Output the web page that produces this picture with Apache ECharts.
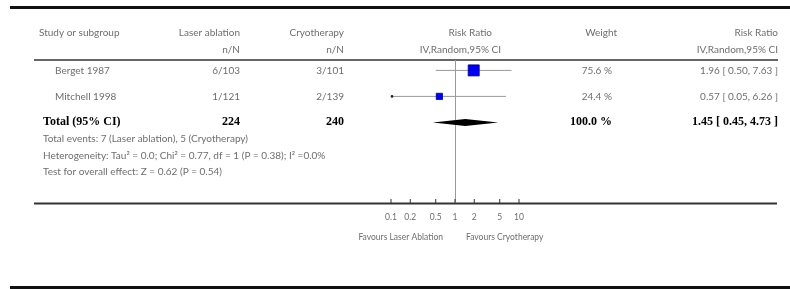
<!DOCTYPE html>
<html>
<head>
<meta charset="utf-8">
<script src="https://cdn.jsdelivr.net/npm/echarts@6/dist/echarts.min.js"></script>
<style>
  html, body { margin: 0; padding: 0; background: #fff; }
  #main { width: 790px; height: 289px; }
</style>
</head>
<body>
<div id="main"></div>
<script>
// study rows
var studies = ['Berget 1987', 'Mitchell 1998'];
var laserN = ['6/103', '1/121'];
var cryoN = ['3/101', '2/139'];
var rr = [1.96, 0.57];
var rrLo = [0.50, 0.05];
var rrHi = [7.63, 6.26];
var weights = [75.6, 24.4];
var ciText = ['1.96 [ 0.50, 7.63 ]', '0.57 [ 0.05, 6.26 ]'];

// pooled
var totalLabel = 'Total (95% CI)';
var totalN = ['224', '240'];
var totalRR = [1.45, 0.45, 4.73];
var totalWeight = '100.0 %';
var totalCI = '1.45 [ 0.45, 4.73 ]';

var notes = [
  'Total events: 7 (Laser ablation), 5 (Cryotherapy)',
  'Heterogeneity: Tau\u00b2 = 0.0; Chi\u00b2 = 0.77, df = 1 (P = 0.38); I\u00b2 =0.0%',
  'Test for overall effect: Z = 0.62 (P = 0.54)'
];

var ticks = [0.1, 0.2, 0.5, 1, 2, 5, 10];
var tickLabels = ['0.1', '0.2', '0.5', '1', '2', '5', '10'];

var GRAY = '#6e6e6e';
var FONT = 'Lato';
var SERIF = '"Liberation Serif", "DejaVu Serif", serif';
var AXMIN = 0.1, AXMAX = 10;

var chart = echarts.init(document.getElementById('main'), null, { renderer: 'canvas' });

function txt(x, y, s, align, opt) {
  opt = opt || {};
  return {
    type: 'text',
    x: x, y: y,
    style: {
      text: s,
      align: align || 'left',
      verticalAlign: 'middle',
      fill: opt.fill || GRAY,
      font: opt.font || ('10px ' + FONT)
    }
  };
}

var studyData = studies.map(function (s, i) {
  return [i, rr[i], rrLo[i], rrHi[i], weights[i]];
});

var option = {
  animation: false,
  grid: { left: 391, width: 128, top: 60, height: 143 },
  xAxis: {
    type: 'log', logBase: 10, min: AXMIN, max: AXMAX,
    axisLine: { show: false }, axisTick: { show: false },
    axisLabel: { show: false }, splitLine: { show: false }
  },
  yAxis: {
    type: 'value', inverse: true, min: -0.4, max: 5.1,
    show: false, splitLine: { show: false }
  },
  graphic: [
    // rules
    { type: 'line', shape: { x1: 10, y1: 7.5, x2: 790, y2: 7.5 }, style: { stroke: '#111', lineWidth: 3 } },
    { type: 'line', shape: { x1: 34, y1: 60, x2: 778, y2: 60 }, style: { stroke: '#333', lineWidth: 1.5 } },
    { type: 'line', shape: { x1: 34, y1: 203.5, x2: 777, y2: 203.5 }, style: { stroke: '#333', lineWidth: 2 } },
    { type: 'line', shape: { x1: 10, y1: 287.5, x2: 790, y2: 287.5 }, style: { stroke: '#111', lineWidth: 3 } },
    // header
    txt(39, 33, 'Study or subgroup'),
    txt(240, 33, 'Laser ablation', 'right'),
    txt(240, 50, 'n/N', 'right'),
    txt(344, 33, 'Cryotherapy', 'right'),
    txt(344, 50, 'n/N', 'right'),
    txt(492, 33, 'Risk Ratio', 'right'),
    txt(501, 50, 'IV,Random,95% CI', 'right'),
    txt(617, 33, 'Weight', 'right'),
    txt(778, 33, 'Risk Ratio', 'right'),
    txt(778, 50, 'IV,Random,95% CI', 'right'),
    // notes
    txt(43, 139, notes[0]),
    txt(43, 156, notes[1]),
    txt(43, 172, notes[2]),
    // axis captions
    txt(443, 237, 'Favours Laser Ablation', 'right', { font: '8.5px ' + FONT }),
    txt(466, 237, 'Favours Cryotherapy', 'left', { font: '8.5px ' + FONT })
  ],
  series: [
    {
      // table text for each study row
      type: 'custom',
      clip: false,
      data: studyData,
      renderItem: function (params, api) {
        var i = params.dataIndex;
        var y = api.coord([1, api.value(0)])[1];
        return {
          type: 'group',
          children: [
            txt(55, y, studies[i]),
            txt(240, y, laserN[i], 'right'),
            txt(344, y, cryoN[i], 'right'),
            txt(612, y, weights[i].toFixed(1) + ' %', 'right'),
            txt(778, y, ciText[i], 'right')
          ]
        };
      },
      z: 3
    },
    {
      // CI lines and weighted squares
      type: 'custom',
      clip: false,
      data: studyData,
      renderItem: function (params, api) {
        var row = api.value(0);
        var lo = api.value(2), hi = api.value(3), w = api.value(4);
        var p0 = api.coord([Math.max(lo, AXMIN), row]);
        var p1 = api.coord([Math.min(hi, AXMAX), row]);
        var pc = api.coord([api.value(1), row]);
        var side = 1.27 * Math.sqrt(w);
        var kids = [
          { type: 'line', shape: { x1: p0[0], y1: p0[1], x2: p1[0], y2: p1[1] }, style: { stroke: '#999', lineWidth: 1 } },
          { type: 'rect', shape: { x: pc[0] - side / 2, y: pc[1] - side / 2, width: side, height: side },
            style: { fill: '#0000ee', stroke: '#00008b', lineWidth: 0.8 } }
        ];
        if (lo < AXMIN) {
          kids.push({ type: 'circle', shape: { cx: p0[0] + 1, cy: p0[1], r: 1.3 }, style: { fill: '#222' } });
        }
        return { type: 'group', children: kids };
      },
      markLine: {
        silent: true, symbol: 'none', label: { show: false },
        lineStyle: { color: '#999', width: 1, type: 'solid' },
        data: [{ xAxis: 1 }]
      },
      z: 4
    },
    {
      // pooled diamond and total row text
      type: 'custom',
      clip: false,
      data: [[2, totalRR[0], totalRR[1], totalRR[2]]],
      renderItem: function (params, api) {
        var row = api.value(0);
        var pc = api.coord([api.value(1), row]);
        var pl = api.coord([api.value(2), row]);
        var pr = api.coord([api.value(3), row]);
        var h = 3.5;
        var bold = 'bold 12px ' + SERIF;
        return {
          type: 'group',
          children: [
            { type: 'polygon', shape: { points: [[pl[0], pc[1]], [pc[0], pc[1] - h], [pr[0], pc[1]], [pc[0], pc[1] + h]] },
              style: { fill: '#000' } },
            txt(43, pc[1], totalLabel, 'left', { fill: '#000', font: bold }),
            txt(240, pc[1], totalN[0], 'right', { fill: '#000', font: bold }),
            txt(344, pc[1], totalN[1], 'right', { fill: '#000', font: bold }),
            txt(612, pc[1], totalWeight, 'right', { fill: '#000', font: bold }),
            txt(778, pc[1], totalCI, 'right', { fill: '#000', font: bold })
          ]
        };
      },
      z: 5
    },
    {
      // axis ticks and labels on the log scale
      type: 'custom',
      clip: false,
      data: ticks.map(function (t, i) { return [t, i]; }),
      renderItem: function (params, api) {
        var p = api.coord([api.value(0), 5.1]);
        return {
          type: 'group',
          children: [
            { type: 'line', shape: { x1: p[0], y1: p[1] - 4, x2: p[0], y2: p[1] }, style: { stroke: '#333', lineWidth: 1 } },
            txt(p[0], p[1] + 14, tickLabels[params.dataIndex], 'center', { font: '8.5px ' + FONT })
          ]
        };
      },
      z: 6
    }
  ]
};

chart.setOption(option);
</script>
</body>
</html>
